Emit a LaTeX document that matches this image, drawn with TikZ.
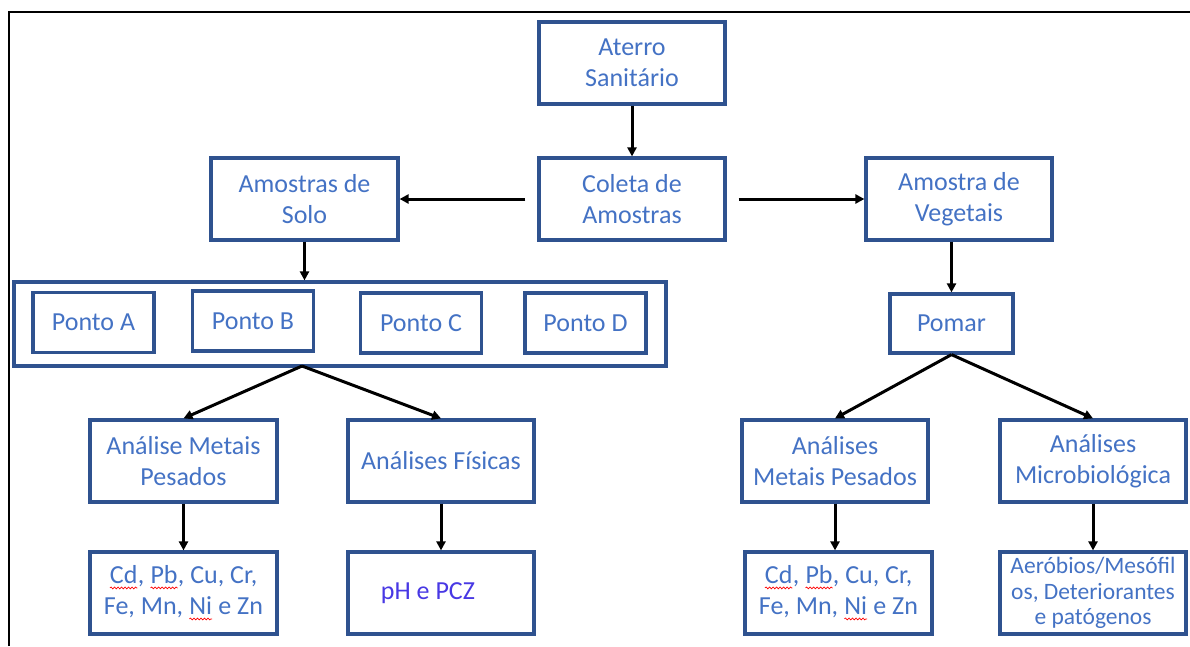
\documentclass[tikz,border=0pt]{standalone}
\usepackage{fontspec}
\setmainfont{Carlito}
\usepackage{tikz}
\usetikzlibrary{arrows.meta,positioning,calc,decorations.pathmorphing}
\definecolor{FlowBlue}{RGB}{68,114,196}
\definecolor{EdgeBlue}{RGB}{47,82,143}
\definecolor{PhBlue}{RGB}{72,56,228}
\newcommand\redwave[1]{\tikz[baseline=(wv.base),x=1pt,y=1pt]{%
  \node[draw=none,inner sep=0pt,outer sep=0pt,minimum width=0pt,minimum height=0pt,align=left] (wv) {#1};
  \draw[red,line width=0.7pt,decorate,decoration={snake,amplitude=0.9pt,segment length=3.5pt}]
    ([yshift=-4pt]wv.base west) -- ([yshift=-4pt]wv.base east);}}

\begin{document}
\begin{tikzpicture}[x=1pt,y=-1pt,
  box/.style={draw=EdgeBlue,line width=3.2pt,text=FlowBlue,align=center,inner sep=0pt,
              minimum width=186pt,minimum height=82pt,font=\fontsize{26}{31}\selectfont},
  sbox/.style={box,minimum width=121pt,minimum height=60pt},
  arr/.style={-{Triangle[length=9pt,width=9pt]},line width=3pt,black},
]
\useasboundingbox (0,0) rectangle (1190,646);
\draw[line width=2.4pt] (9,646) -- (9,12) -- (1190,12);

\node[box] (aterro) at (632,63) {Aterro\\Sanitário};
\node[box] (coleta) at (632,199) {Coleta de\\Amostras};
\node[box,minimum width=187pt] (solo) at (304.5,199) {Amostras de\\Solo};
\node[box] (veg) at (959,199) {Amostra de\\Vegetais};

\node[box,minimum width=652pt,minimum height=84pt] (pts) at (340,324) {};
\node[sbox] (pa) at (93.5,322.5) {Ponto A};
\node[sbox] (pb) at (253,321) {Ponto B};
\node[sbox] (pc) at (421,323) {Ponto C};
\node[sbox] (pd) at (585.5,323) {Ponto D};
\node[sbox,minimum width=123pt,minimum height=59pt] (pomar) at (951.5,323.5) {Pomar};

\node[box,minimum width=187pt] (amp) at (183.5,461) {Análise Metais\\Pesados};
\node[box] (fis) at (441,461) {Análises Físicas};
\node[box] (amp2) at (835,461) {Análises\\Metais Pesados};
\node[box] (micro) at (1093,461) {Análises\\Microbiológica};

\node[box,minimum width=187pt] (cd1) at (183.5,593) {\redwave{Cd}, \redwave{Pb}, Cu, Cr,\\Fe, Mn, \redwave{Ni} e Zn};
\node[box,text=PhBlue] (ph) at (441,593) {pH e PCZ\hspace*{26pt}};
\node[box,minimum width=187pt] (cd2) at (838.5,593) {\redwave{Cd}, \redwave{Pb}, Cu, Cr,\\Fe, Mn, \redwave{Ni} e Zn};
\node[box,font=\fontsize{23.5}{25.5}\selectfont] (aer) at (1093,593) {Aeróbios/Mesófil\\os, Deteriorantes\\e patógenos};

\coordinate (fork) at (302,366);

\draw[arr] (aterro) -- (coleta);
\draw[arr,shorten <=12pt] (coleta) -- (solo);
\draw[arr,shorten <=12pt] (coleta) -- (veg);
\draw[arr] (solo) -- (solo |- pts.north);
\draw[arr] (veg.south -| pomar) -- (pomar);
\draw[arr] (fork) -- (amp.north);
\draw[arr] (fork) -- (fis.north);
\draw[arr] (pomar.south) -- (amp2.north);
\draw[arr] (pomar.south) -- (micro.north);
\draw[arr] (amp) -- (cd1);
\draw[arr] (fis) -- (ph);
\draw[arr] (amp2.south) -- (amp2.south |- cd2.north);
\draw[arr] (micro) -- (aer);
\end{tikzpicture}
\end{document}
